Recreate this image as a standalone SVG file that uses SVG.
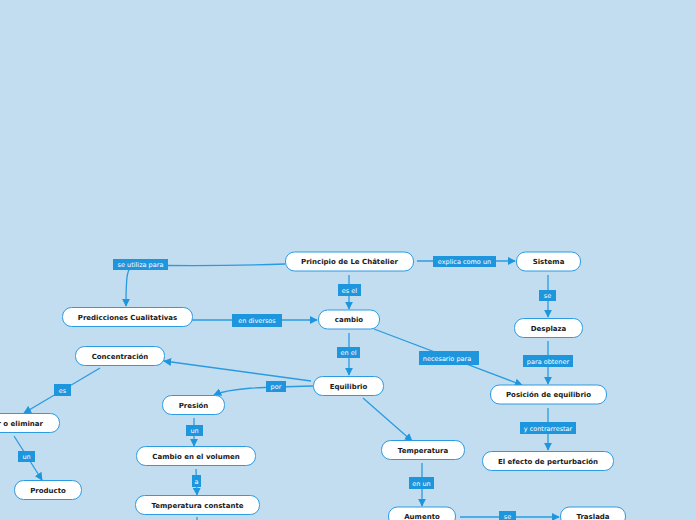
<svg xmlns="http://www.w3.org/2000/svg" width="696" height="520" viewBox="0 0 696 520">
<defs>
<marker id="ah" viewBox="0 0 10 10" refX="9" refY="5" markerWidth="8" markerHeight="8" markerUnits="userSpaceOnUse" orient="auto">
<path d="M0,0 L10,5 L0,10 Z" fill="#1E96DE"/>
</marker>
<style>
.bg{fill:#C2DDF0}
.n rect{fill:#FFFFFF;stroke:#2C9BE2;stroke-width:1}
.n text{font-family:"DejaVu Sans",Verdana,sans-serif;font-weight:bold;font-size:7px;fill:#1A1A1A;text-anchor:middle}
.c path{fill:none;stroke:#2A9BE0;stroke-width:1.3}
.c .a{marker-end:url(#ah)}
.l rect{fill:#1E96DE}
.l text{font-family:"DejaVu Sans",Verdana,sans-serif;font-size:6.5px;fill:#FFFFFF;text-anchor:middle}
</style>
</defs>
<rect class="bg" x="0" y="0" width="696" height="520"/>
<g id="connectors" class="c">
<path class="a" d="M285,264 C230,266 180,266 135,265 C127,266 126,275 126,306"/>
<path class="a" d="M417,261 L515,261"/>
<path class="a" d="M349,275 L349,309"/>
<path class="a" d="M548,275 L548,317"/>
<path class="a" d="M192,320 L317,320"/>
<path class="a" d="M349,333 L349,375"/>
<path class="a" d="M374,329 L522,385"/>
<path class="a" d="M548,341 L548,384"/>
<path class="a" d="M311,381 L164,361"/>
<path class="a" d="M313,386 C260,387 230,388 214,395"/>
<path class="a" d="M363,398 L412,441"/>
<path class="a" d="M548,408 L548,450"/>
<path class="a" d="M100,368 L24,413"/>
<path class="a" d="M14,436 L42,480"/>
<path class="a" d="M194,418 L194,446"/>
<path class="a" d="M196,469 L197,495"/>
<path d="M197,517 L197,522"/>
<path class="a" d="M422,463 L422,506"/>
<path class="a" d="M460,517 L559,517"/>
</g>
<g id="labels" class="l">
<g><rect x="113" y="259" width="55" height="11"/><text x="140.5" y="267">se utiliza para</text></g>
<g><rect x="433" y="256" width="63" height="11"/><text x="464.5" y="264">explica como un</text></g>
<g><rect x="338" y="284" width="23" height="12"/><text x="349.5" y="292.5">es el</text></g>
<g><rect x="539" y="290" width="17" height="11"/><text x="547.5" y="298">se</text></g>
<g><rect x="232" y="314" width="50" height="13"/><text x="257" y="323">en diversos</text></g>
<g><rect x="337" y="347" width="23" height="11"/><text x="348.5" y="355">en el</text></g>
<g><rect x="419" y="351" width="60" height="14"/><text x="447" y="360.5">necesario para</text></g>
<g><rect x="523" y="355" width="50" height="12"/><text x="548" y="363.5">para obtener</text></g>
<g><rect x="266" y="381" width="20" height="11"/><text x="276" y="389">por</text></g>
<g><rect x="520" y="422" width="56" height="12"/><text x="548" y="430.5">y contrarrestar</text></g>
<g><rect x="54" y="384" width="17" height="12"/><text x="62.5" y="392.5">es</text></g>
<g><rect x="18" y="451" width="17" height="11"/><text x="26.5" y="459">un</text></g>
<g><rect x="186" y="425" width="17" height="11"/><text x="194.5" y="433">un</text></g>
<g><rect x="192" y="475" width="9" height="12"/><text x="196.5" y="483.5">a</text></g>
<g><rect x="409" y="477" width="25" height="12"/><text x="421.5" y="485.5">en un</text></g>
<g><rect x="499" y="511" width="17" height="11"/><text x="507.5" y="519">se</text></g>
</g>
<g id="n-principio" class="n"><rect x="285.5" y="252" width="128" height="19" rx="9"/><text x="349.5" y="264">Principio de Le Châtelier</text></g>
<g id="n-sistema" class="n"><rect x="516.5" y="252" width="64" height="19" rx="9"/><text x="548.5" y="264">Sistema</text></g>
<g id="n-predicciones" class="n"><rect x="62.5" y="307.5" width="130" height="19" rx="9"/><text x="127.5" y="319.5">Predicciones Cualitativas</text></g>
<g id="n-cambio" class="n"><rect x="318.5" y="310" width="61" height="19" rx="9"/><text x="349" y="322">cambio</text></g>
<g id="n-desplaza" class="n"><rect x="514.5" y="318.5" width="68" height="19" rx="9"/><text x="548.5" y="330.5">Desplaza</text></g>
<g id="n-concentracion" class="n"><rect x="75.5" y="346.5" width="89" height="19" rx="9"/><text x="120" y="358.5">Concentración</text></g>
<g id="n-equilibrio" class="n"><rect x="313.5" y="376.5" width="70" height="19" rx="9"/><text x="348.5" y="388.5">Equilibrio</text></g>
<g id="n-posicion" class="n"><rect x="490.5" y="385" width="116" height="19" rx="9"/><text x="548.5" y="397">Posición de equilibrio</text></g>
<g id="n-presion" class="n"><rect x="162.5" y="395.5" width="62" height="19" rx="9"/><text x="193.5" y="407.5">Presión</text></g>
<g id="n-eliminar" class="n"><rect x="-50" y="413.5" width="109.5" height="19" rx="9"/><text x="43" y="425.5" style="text-anchor:end">r o eliminar</text></g>
<g id="n-volumen" class="n"><rect x="136.5" y="446.5" width="119" height="19" rx="9"/><text x="196" y="458.5">Cambio en el volumen</text></g>
<g id="n-producto" class="n"><rect x="14.5" y="480.5" width="67" height="19" rx="9"/><text x="48" y="492.5">Producto</text></g>
<g id="n-temperatura" class="n"><rect x="381.5" y="440.5" width="83" height="19" rx="9"/><text x="423" y="452.5">Temperatura</text></g>
<g id="n-efecto" class="n"><rect x="482.5" y="451.5" width="131" height="19" rx="9"/><text x="548" y="463.5">El efecto de perturbación</text></g>
<g id="n-tempconst" class="n"><rect x="135.5" y="495.5" width="124" height="19" rx="9"/><text x="197.5" y="507.5">Temperatura constante</text></g>
<g id="n-aumento" class="n"><rect x="388.5" y="507" width="67" height="19" rx="9"/><text x="422" y="519">Aumento</text></g>
<g id="n-traslada" class="n"><rect x="560.5" y="507" width="65" height="19" rx="9"/><text x="593" y="519">Traslada</text></g>
</svg>
